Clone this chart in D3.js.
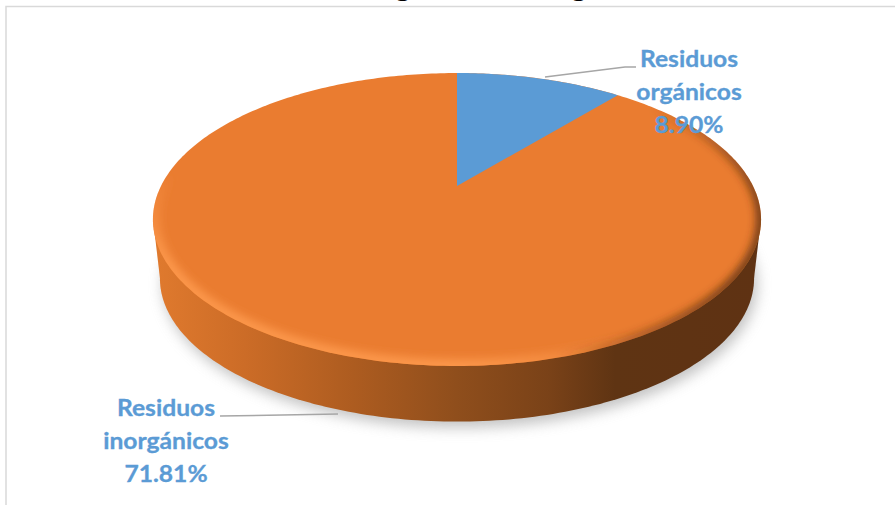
<!DOCTYPE html>
<html>
<head>
<meta charset="utf-8">
<script src="https://cdn.jsdelivr.net/npm/d3@7"></script>
<style>
html, body { margin: 0; padding: 0; background: #fff; }
svg { display: block; }
text { font-family: Lato, "Open Sans", sans-serif; }
</style>
</head>
<body>
<svg id="chart" width="895" height="505"></svg>
<script>
const categories = ["Residuos orgánicos", "Residuos inorgánicos"];
const seriesValues = [8.90, 71.81];
const valueLabels = ["8.90%", "71.81%"];
const sliceColors = ["#5b9bd5", "#ea7c30"];
const titleText = "Residuos orgánicos e inorgánicos";

// Each label: the category split over two rows, then the value
const labelRows = categories.map((c, i) => {
  const parts = c.split(" ");
  return [parts[0], parts[1], valueLabels[i]];
});

const width = 895, height = 505;
const svg = d3.select("#chart");
const defs = svg.append("defs");

// Tilted disc: a projective map from the unit disc to the screen, so the
// hub sits above the middle of the visible ellipse as in a 3-D pie.
const hub = { x: 457, y: 186 };
const tilt = 0.2287, spanX = 296, spanY = 138.8;
function project(u, v) {
  const w = 1 + tilt * v;
  return [hub.x + spanX * u / w, hub.y - spanY * v / w];
}
const rimPoint = a => project(Math.sin(a), Math.cos(a));

const pieLayout = d3.pie().sort(null).value(d => d)(seriesValues);
const angleSteps = d3.range(0, 361).map(d => d * Math.PI / 180);
const line = d3.line();

function slicePath(d) {
  const n = Math.max(2, Math.ceil((d.endAngle - d.startAngle) * 90));
  const pts = d3.range(n + 1).map(i => rimPoint(d.startAngle + (d.endAngle - d.startAngle) * i / n));
  return line([project(0, 0), ...pts]) + "Z";
}

const topRim = angleSteps.map(rimPoint);
const topPath = line(topRim) + "Z";

// Lower rim of the wall: slightly narrower and pushed down
const floor = { dy: 59, shrink: 0.977 };
const floorRim = topRim.map(([x, y]) => [hub.x + (x - hub.x) * floor.shrink, y + floor.dy + (219.5 - y) * (1 - floor.shrink)]);
const floorPath = line(floorRim) + "Z";
const leftTop = d3.least(topRim, d => d[0]), rightTop = d3.greatest(topRim, d => d[0]);
const leftFloor = d3.least(floorRim, d => d[0]), rightFloor = d3.greatest(floorRim, d => d[0]);
const wallHull = line([leftTop, leftFloor, rightFloor, rightTop]) + "Z";

// Wall shading runs from lit orange on the left to deep brown on the right
const wallStops = [[0, "#e07a2e"], [0.15, "#cc6c27"], [0.33, "#ad5c20"], [0.5, "#8f4e1c"], [0.65, "#7a4218"], [0.76, "#5f3413"], [1, "#5f3213"]];
const wallGrad = defs.append("linearGradient").attr("id", "wallGrad")
  .attr("gradientUnits", "userSpaceOnUse")
  .attr("x1", leftTop[0]).attr("x2", rightTop[0]).attr("y1", 0).attr("y2", 0);
wallGrad.selectAll("stop").data(wallStops).join("stop")
  .attr("offset", d => d[0]).attr("stop-color", d => d[1]);

// Rim highlight fades out towards the upper left and lower right
const glowGrad = defs.append("linearGradient").attr("id", "glowGrad")
  .attr("gradientUnits", "userSpaceOnUse")
  .attr("x1", 457).attr("y1", 366).attr("x2", 486).attr("y2", 283);
glowGrad.append("stop").attr("offset", 0).attr("stop-color", "#ff9c50").attr("stop-opacity", 0.85);
glowGrad.append("stop").attr("offset", 1).attr("stop-color", "#ff9c50").attr("stop-opacity", 0);

// Rim shade deepens towards the right-hand side
const shadeGrad = defs.append("linearGradient").attr("id", "shadeGrad")
  .attr("gradientUnits", "userSpaceOnUse")
  .attr("x1", 650).attr("y1", 115).attr("x2", 781).attr("y2", 164);
shadeGrad.append("stop").attr("offset", 0).attr("stop-color", "#5f3213").attr("stop-opacity", 0);
shadeGrad.append("stop").attr("offset", 1).attr("stop-color", "#5f3213").attr("stop-opacity", 0.95);

defs.append("filter").attr("id", "soft").attr("x", "-10%").attr("y", "-10%").attr("width", "120%").attr("height", "120%")
  .append("feGaussianBlur").attr("stdDeviation", 7);
defs.append("filter").attr("id", "bevelBlur").attr("x", "-10%").attr("y", "-10%").attr("width", "120%").attr("height", "120%")
  .append("feGaussianBlur").attr("stdDeviation", 4);
defs.append("clipPath").attr("id", "faceClip").append("path").attr("d", topPath);

// Chart frame, open at the edges of the page
svg.append("rect").attr("x", 6).attr("y", 6.5).attr("width", 960).attr("height", 560)
  .attr("fill", "#fff").attr("stroke", "#d9d9d9").attr("stroke-width", 1.5);

// Heading, mostly cut off by the top of the page
svg.append("text").attr("transform", "translate(457,-3) scale(1.15,1)").attr("text-anchor", "middle")
  .attr("font-size", 25).attr("font-weight", 700).attr("fill", "#000").text(titleText);

// Soft shadow on the ground
svg.append("path").attr("d", floorPath).attr("transform", "translate(3,6)")
  .attr("fill", "#9a9a9a").attr("opacity", 0.6).attr("filter", "url(#soft)");

// Wall of the disc
svg.append("path").attr("d", floorPath).attr("fill", "url(#wallGrad)");
svg.append("path").attr("d", wallHull).attr("fill", "url(#wallGrad)");

// Top face
svg.append("path").attr("d", topPath).attr("fill", sliceColors[1]);

// Bevel along the rim, clipped to the face
const bevel = svg.append("g").attr("clip-path", "url(#faceClip)");
["glowGrad", "shadeGrad"].forEach(id => {
  bevel.append("path").attr("d", topPath).attr("fill", "none")
    .attr("stroke", `url(#${id})`).attr("stroke-width", id === "glowGrad" ? 14 : 9)
    .attr("filter", "url(#bevelBlur)");
});

// Blue slice on the face; the orange slice is the face itself
svg.append("g").selectAll("path").data(pieLayout.slice(0, 1)).join("path")
  .attr("d", slicePath)
  .attr("fill", (d, i) => sliceColors[i]);

// Leader lines
const leaders = [
  [[545, 77], [625, 67], [636, 67]],
  [[220, 416], [338, 414]]
];
svg.append("g").selectAll("path").data(leaders).join("path")
  .attr("d", d => line(d)).attr("fill", "none")
  .attr("stroke", "#a6a6a6").attr("stroke-width", 1.5);

// Data labels
const labelAnchors = [{ x: 689, y: 67 }, { x: 166, y: 416 }];
const rowStep = 33;
labelRows.forEach((rows, i) => {
  svg.append("g").selectAll("text").data(rows).join("text")
    .attr("text-anchor", "middle")
    .attr("transform", (d, j) => `translate(${labelAnchors[i].x},${labelAnchors[i].y + j * rowStep}) scale(1.12,1.03)`)
    .attr("font-size", 22).attr("font-weight", 700)
    .attr("fill", "#5b9bd5").attr("stroke", "#5b9bd5").attr("stroke-width", 0.3)
    .text(d => d);
});
</script>
</body>
</html>
